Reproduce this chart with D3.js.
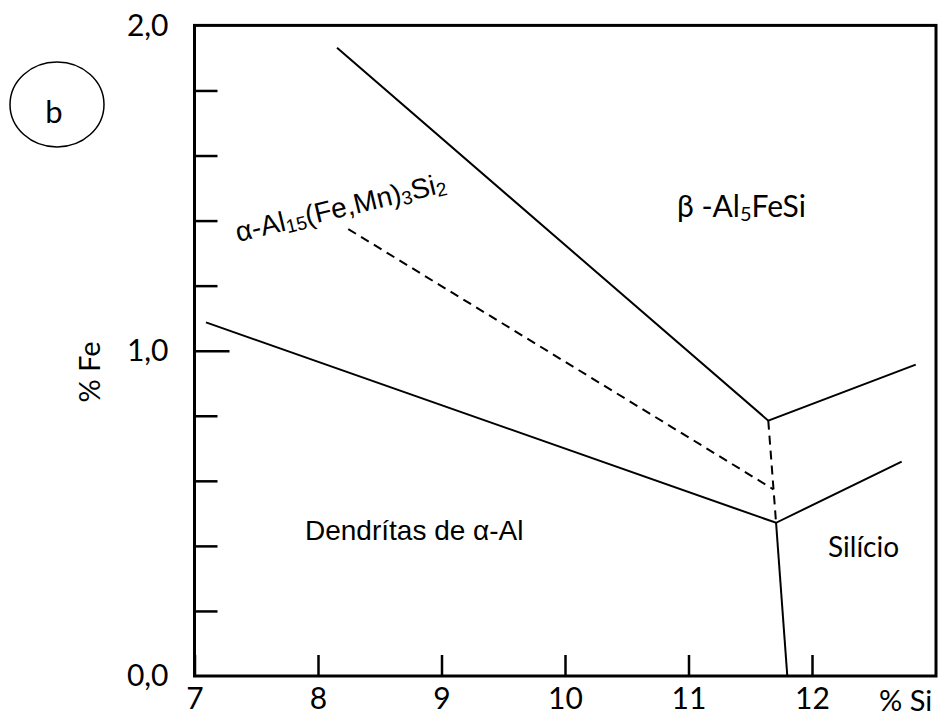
<!DOCTYPE html>
<html><head><meta charset="utf-8">
<script src="https://cdn.jsdelivr.net/npm/d3@7/dist/d3.min.js"></script>
<style>
html,body{margin:0;padding:0;background:#fff;}
svg{display:block;}
</style></head>
<body>
<svg id="chart" width="942" height="717"></svg>
<script>
// ---- data ----
const xTickValues = [7, 8, 9, 10, 11, 12];
const yLabelValues = [0, 1, 2];
const yLabelTexts = ["0,0", "1,0", "2,0"];
const yMinorTicks = [0.2, 0.4, 0.6, 0.8, 1.2, 1.4, 1.6, 1.8];
const yMajorTicks = [1.0];
const betaLine = [[8.154, 1.931], [11.646, 0.785], [12.84, 0.957]];
const alphaAlLine = [[7.093, 1.087], [11.709, 0.471], [12.726, 0.659]];
const siliconLine = [[11.709, 0.471], [11.80, 0.0]];
const alphaDashed = [[8.245, 1.374], [11.687, 0.574]];
const verticalDashed = [[11.646, 0.785], [11.709, 0.471]];

const svg = d3.select("#chart");
const x = d3.scaleLinear().domain([7, 12]).range([194.5, 812]);
const y = d3.scaleLinear().domain([0, 2]).range([676, 25.4]);
const xMax = x.invert(936);

const calibri = "Lato, 'Open Sans', sans-serif";
const arial = "'Liberation Sans', Arial, sans-serif";

// x axis (ticks inside)
const xAxis = d3.axisBottom(x).tickValues(xTickValues).tickSize(-21).tickPadding(12).tickFormat(d3.format("d"));
const gx = svg.append("g").attr("transform", `translate(0,${y(0)})`).call(xAxis);
gx.select(".domain").remove();
gx.selectAll(".tick line").attr("stroke", "#000").attr("stroke-width", 2.5);
gx.selectAll(".tick text").attr("font-family", calibri).attr("font-size", 30).attr("fill", "#000");

// y axis labels
const yAxis = d3.axisLeft(y).tickValues(yLabelValues).tickSize(0).tickPadding(26)
  .tickFormat((d, i) => yLabelTexts[i]);
const gy = svg.append("g").attr("transform", `translate(${x(7)},0)`).call(yAxis);
gy.select(".domain").remove();
gy.selectAll(".tick text").attr("font-family", calibri).attr("font-size", 30).attr("fill", "#000");

// y minor ticks inside
const gyMinor = svg.append("g").attr("transform", `translate(${x(7)},0)`)
  .call(d3.axisRight(y).tickValues(yMinorTicks).tickSize(23).tickFormat(""));
gyMinor.select(".domain").remove();
gyMinor.selectAll(".tick line").attr("stroke", "#000").attr("stroke-width", 2.5);
const gyMajor = svg.append("g").attr("transform", `translate(${x(7)},0)`)
  .call(d3.axisRight(y).tickValues(yMajorTicks).tickSize(35).tickFormat(""));
gyMajor.select(".domain").remove();
gyMajor.selectAll(".tick line").attr("stroke", "#000").attr("stroke-width", 2.5);

// frame
svg.append("rect")
  .attr("x", x(7)).attr("y", y(2))
  .attr("width", x(xMax) - x(7)).attr("height", y(0) - y(2))
  .attr("fill", "none").attr("stroke", "#000").attr("stroke-width", 3);

// lines
const line = d3.line().x(d => x(d[0])).y(d => y(d[1]));
[betaLine, alphaAlLine, siliconLine].forEach(dd => {
  svg.append("path").attr("d", line(dd)).attr("fill", "none")
    .attr("stroke", "#000").attr("stroke-width", 2);
});
[alphaDashed, verticalDashed].forEach(dd => {
  svg.append("path").attr("d", line(dd)).attr("fill", "none")
    .attr("stroke", "#000").attr("stroke-width", 2).attr("stroke-dasharray", "9,6");
});

// axis titles
svg.append("text").attr("x", 879).attr("y", 711)
  .attr("font-family", calibri).attr("font-size", 29).attr("fill", "#000").text("% Si");
svg.append("text").attr("transform", "translate(100,372) rotate(-90)")
  .attr("text-anchor", "middle")
  .attr("font-family", calibri).attr("font-size", 29).attr("fill", "#000").text("% Fe");

// circle label b
svg.append("ellipse").attr("cx", 57).attr("cy", 104.5).attr("rx", 47).attr("ry", 42.5)
  .attr("fill", "none").attr("stroke", "#000").attr("stroke-width", 1.5);
svg.append("text").attr("x", 54).attr("y", 123).attr("text-anchor", "middle")
  .attr("font-family", calibri).attr("font-size", 31).attr("fill", "#000").text("b");

// region labels
const beta = svg.append("text").attr("x", 677).attr("y", 217)
  .attr("font-family", calibri).attr("font-size", 30).attr("fill", "#000");
beta.append("tspan").text("β -Al");
beta.append("tspan").attr("font-size", 20).attr("dy", 4).text("5");
beta.append("tspan").attr("dy", -4).text("FeSi");

svg.append("text").attr("x", 828).attr("y", 557)
  .attr("font-family", calibri).attr("font-size", 28).attr("fill", "#000").text("Silício");

svg.append("text").attr("x", 305).attr("y", 540)
  .attr("font-family", arial).attr("font-size", 28).attr("fill", "#000").text("Dendrítas de α-Al");

const alpha = svg.append("text").attr("transform", "translate(238,242) rotate(-13.5)")
  .attr("font-family", arial).attr("font-size", 28).attr("fill", "#000");
alpha.append("tspan").text("α-Al");
alpha.append("tspan").attr("font-size", 19).attr("dy", 3).text("15");
alpha.append("tspan").attr("dy", -3).text("(Fe,Mn)");
alpha.append("tspan").attr("font-size", 19).attr("dy", 3).text("3");
alpha.append("tspan").attr("dy", -3).text("Si");
alpha.append("tspan").attr("font-size", 19).attr("dy", 3).text("2");
</script>
</body></html>
